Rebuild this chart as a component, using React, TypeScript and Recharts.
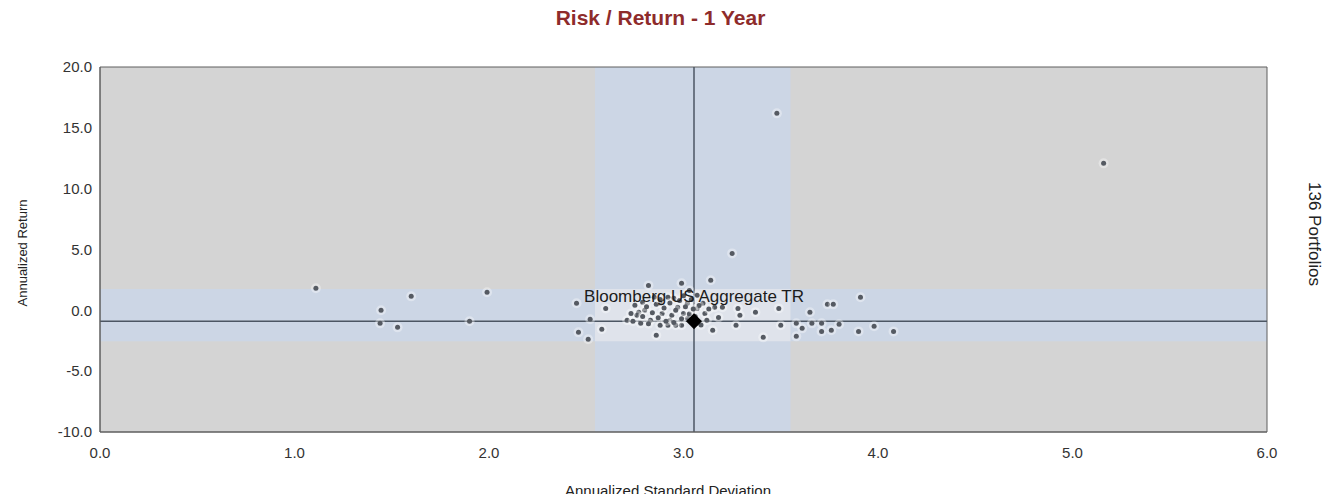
import React from 'react'
import {
  ScatterChart, Scatter, XAxis, YAxis, ReferenceArea, ReferenceLine,
} from 'recharts'

// portfolio points: annualized std dev (x) and annualized return (y)
const portfolioRisk = [
  1.11, 1.445, 1.44, 1.53, 1.60, 1.90, 1.99, 3.48, 5.16, 3.25,
  4.08, 3.98, 3.91, 3.74, 3.77, 3.90, 3.80, 3.76, 3.71, 3.71,
  3.66, 3.65, 3.61, 3.58, 3.58, 3.50, 3.49, 3.41, 3.37, 3.29,
  3.28, 3.27, 3.20, 3.15, 3.14, 3.18, 3.16, 3.11, 3.10, 3.07,
  3.07, 3.12, 3.07, 3.03, 3.02, 3.02, 3.00, 2.99, 2.99, 2.97,
  2.96, 2.95, 2.93, 2.92, 2.92, 2.89, 2.88, 2.88, 2.86, 2.85,
  2.83, 2.82, 2.80, 2.79, 2.78, 2.77, 2.76, 2.75, 2.73, 2.71,
  2.60, 2.58, 2.52, 2.51, 2.46, 2.45,
  2.74, 2.79, 2.81, 2.84, 2.86, 2.87, 2.90, 2.91, 2.93, 2.94,
  2.96, 2.98, 2.99, 3.01, 3.03, 3.04, 3.06, 3.08, 3.09, 3.13,
  2.82, 2.95, 3.05, 2.88, 3.00,
]
const portfolioReturn = [
  1.81, 0.0, -1.07, -1.40, 1.15, -0.90, 1.48, 16.19, 12.08, 4.68,
  -1.73, -1.31, 1.07, 0.49, 0.49, -1.73, -1.15, -1.64, -1.73, -1.07,
  -1.07, -0.16, -1.48, -1.07, -2.14, -1.23, 0.16, -2.22, -0.16, -0.41,
  0.16, -1.23, 0.25, -1.64, 2.47, -0.58, 0.25, -0.25, 0.58, 0.16,
  1.23, -0.82, -1.07, 1.64, 0.58, -0.66, -0.25, -1.23, 2.22, 0.25,
  -1.23, 0.99, -0.82, 1.07, -1.23, -0.25, 0.58, -1.23, -2.05, 1.07,
  -0.82, 2.05, 0.0, 0.66, -1.07, -0.16, -0.41, 0.41, -0.25, -0.82,
  0.16, -1.56, -0.74, -2.38, -1.81, 0.58,
  -0.9, -0.5, 0.3, -0.2, 0.5, -0.6, 0.2, -0.9, 0.6, -0.4,
  0.0, 0.8, -0.7, 0.3, -0.3, 0.9, -0.5, 0.4, -1.2, 0.1,
  -1.1, -1.0, 0.1, 0.9, 1.2,
]

const benchmarkName = 'Bloomberg US Aggregate TR'
const benchmarkRisk = 3.054
const benchmarkReturn = -0.9

// shaded bands around the benchmark
const riskBand = [2.545, 3.55]
const returnBand = [-2.55, 1.75]

const xTicks = [0, 1, 2, 3, 4, 5, 6]
const yTicks = [-10, -5, 0, 5, 10, 15, 20]

const portfolios = portfolioRisk.map((r, i) => ({ risk: r, ret: portfolioReturn[i] }))
const benchmark = [{ risk: benchmarkRisk, ret: benchmarkReturn, name: benchmarkName }]

const font = '"Liberation Sans", Arial, sans-serif'

// no scrollbars, so the full window is available
if (typeof document !== 'undefined') document.documentElement.style.overflow = 'hidden'

const Dot = (props: any) => {
  const { cx, cy } = props
  return (
    <g>
      <circle cx={cx} cy={cy} r={5} fill="#ffffff" fillOpacity={0.35} />
      <circle cx={cx} cy={cy} r={2.5} fill="#555a62" />
    </g>
  )
}

const Diamond = (props: any) => {
  const { cx, cy, payload } = props
  const s = 8
  return (
    <g>
      <text x={cx} y={cy - 19} textAnchor="middle" fontSize={17} fill="#1c1c1c" fontFamily={font}>
        {payload.name}
      </text>
      <path d={`M${cx},${cy - s}L${cx + s},${cy}L${cx},${cy + s}L${cx - s},${cy}Z`} fill="#000" />
    </g>
  )
}

export default function App() {
  return (
    <div style={{ position: 'relative', width: 1321, height: 486, fontFamily: font }}>
      <div style={{
        position: 'absolute', left: 0, top: 0, width: 1305, textAlign: 'center',
        fontSize: 21, lineHeight: '20px', fontWeight: 'bold', color: '#8e2b2b',
      }}>
        Risk / Return - 1 Year
      </div>
      <ScatterChart
        width={1321}
        height={486}
        margin={{ top: 59, right: 62, bottom: 12, left: 8 }}
      >
        <XAxis
          type="number"
          dataKey="risk"
          domain={[0, 6]}
          ticks={xTicks}
          tickFormatter={(v: number) => v.toFixed(1)}
          tickLine={false}
          tickSize={6}
          tickMargin={9}
          height={50}
          axisLine={{ stroke: '#5e5e5e' }}
          tick={{ fontSize: 15, fill: '#333', fontFamily: font }}
          allowDataOverflow
        />
        <YAxis
          type="number"
          dataKey="ret"
          domain={[-10, 20]}
          ticks={yTicks}
          tickFormatter={(v: number) => v.toFixed(1)}
          tickLine={false}
          width={84}
          axisLine={{ stroke: '#5e5e5e' }}
          tick={{ fontSize: 15, fill: '#333', fontFamily: font }}
          allowDataOverflow
        />
        <ReferenceArea x1={0} x2={6} y1={-10} y2={20} fill="#d4d4d4" fillOpacity={1} stroke="none" />
        <ReferenceArea x1={riskBand[0]} x2={riskBand[1]} y1={-10} y2={20} fill="#ccd6e5" fillOpacity={1} stroke="none" />
        <ReferenceArea x1={0} x2={6} y1={returnBand[0]} y2={returnBand[1]} fill="#ccd6e5" fillOpacity={1} stroke="none" />
        <ReferenceArea x1={riskBand[0]} x2={riskBand[1]} y1={returnBand[0]} y2={returnBand[1]} fill="#dfe3eb" fillOpacity={1} stroke="none" />
        <ReferenceArea x1={0} x2={6} y1={-10} y2={20} fill="none" stroke="#5e5e5e" strokeWidth={1} />
        <ReferenceLine x={benchmarkRisk} stroke="#4c5663" strokeWidth={1.5} />
        <ReferenceLine y={benchmarkReturn} stroke="#4c5663" strokeWidth={1.5} />
        <Scatter data={portfolios} shape={Dot} isAnimationActive={false} />
        <Scatter data={benchmark} shape={Diamond} isAnimationActive={false} />
      </ScatterChart>
      <div style={{
        position: 'absolute', left: 14, top: 245, transform: 'translate(-50%, -50%) rotate(-90deg)',
        whiteSpace: 'nowrap', fontSize: 13, color: '#222',
      }}>
        Annualized Return
      </div>
      <div style={{
        position: 'absolute', left: 0, top: 475, width: 1320, textAlign: 'center',
        fontSize: 15, lineHeight: '16px', color: '#222',
      }}>
        Annualized Standard Deviation
      </div>
      <div style={{
        position: 'absolute', left: 1306, top: 226, transform: 'translate(-50%, -50%) rotate(90deg)',
        whiteSpace: 'nowrap', fontSize: 17, color: '#222',
      }}>
        136 Portfolios
      </div>
    </div>
  )
}
